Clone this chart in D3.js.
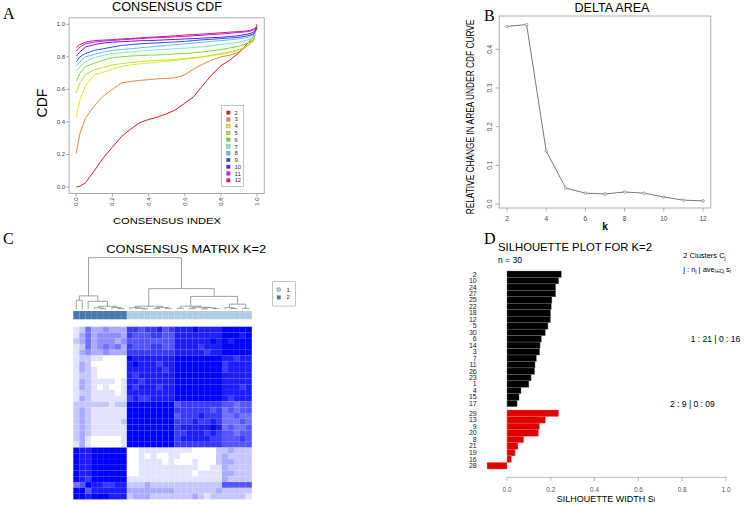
<!DOCTYPE html>
<html><head><meta charset="utf-8">
<script src="https://cdn.jsdelivr.net/npm/d3@7"></script>
<style>body{margin:0;background:#fff}svg{display:block}</style>
</head><body>
<svg id="c" width="745" height="505"></svg>
<script>
// ---------------- DATA ----------------
const cdfK = [2,3,4,5,6,7,8,9,10,11,12];
const cdfColors = ["#d42020","#e8883a","#e6e62e","#b6e62e","#7fd63c","#7fe6bf","#6cb6f0","#2f4ff0","#5a1fe6","#c21fe6","#d2177f"];
const cdfX = [0,0.02,0.05,0.1,0.15,0.2,0.25,0.3,0.35,0.4,0.45,0.5,0.55,0.6,0.65,0.7,0.75,0.8,0.85,0.9,0.95,0.98,1];
const cdfK2  = [0,0.005,0.025,0.10,0.18,0.245,0.31,0.355,0.395,0.415,0.43,0.45,0.475,0.515,0.555,0.625,0.69,0.745,0.78,0.825,0.885,0.925,1.0];
const cdfK3  = [0.207,0.33,0.42,0.50,0.56,0.60,0.64,0.648,0.655,0.66,0.665,0.668,0.672,0.69,0.725,0.755,0.78,0.80,0.81,0.83,0.87,0.905,0.99];
const cdfK4  = [0.43,0.535,0.62,0.69,0.705,0.725,0.74,0.75,0.757,0.762,0.767,0.772,0.778,0.785,0.79,0.80,0.808,0.815,0.825,0.84,0.87,0.90,0.99];
const cdfK5  = [0.576,0.64,0.69,0.72,0.735,0.75,0.758,0.765,0.77,0.775,0.778,0.78,0.785,0.79,0.795,0.80,0.81,0.82,0.83,0.845,0.87,0.895,0.99];
const cdfK6  = [0.65,0.70,0.74,0.76,0.78,0.795,0.80,0.805,0.808,0.81,0.812,0.815,0.818,0.82,0.825,0.83,0.838,0.845,0.855,0.865,0.885,0.905,0.99];
const cdfK7  = [0.71,0.74,0.77,0.795,0.81,0.82,0.825,0.83,0.835,0.84,0.843,0.846,0.85,0.853,0.857,0.862,0.868,0.875,0.882,0.89,0.905,0.92,0.985];
const cdfK8  = [0.745,0.77,0.80,0.815,0.83,0.84,0.845,0.85,0.855,0.86,0.865,0.87,0.875,0.88,0.885,0.89,0.895,0.90,0.905,0.91,0.92,0.935,0.98];
const cdfK9  = [0.77,0.80,0.82,0.84,0.85,0.86,0.87,0.875,0.88,0.883,0.886,0.889,0.892,0.895,0.90,0.905,0.908,0.912,0.916,0.92,0.93,0.94,0.975];
const cdfK10 = [0.805,0.83,0.86,0.875,0.885,0.89,0.893,0.896,0.899,0.90,0.902,0.905,0.907,0.91,0.912,0.915,0.918,0.92,0.925,0.93,0.94,0.95,0.975];
const cdfK11 = [0.835,0.86,0.88,0.89,0.897,0.90,0.905,0.908,0.912,0.915,0.918,0.92,0.923,0.926,0.93,0.933,0.937,0.94,0.945,0.95,0.955,0.965,0.98];
const cdfK12 = [0.855,0.875,0.89,0.90,0.903,0.906,0.91,0.913,0.917,0.92,0.923,0.926,0.93,0.934,0.937,0.94,0.944,0.948,0.952,0.955,0.96,0.97,0.985];
const cdfSeries = [cdfK2,cdfK3,cdfK4,cdfK5,cdfK6,cdfK7,cdfK8,cdfK9,cdfK10,cdfK11,cdfK12];
const cdfTicks = [0,0.2,0.4,0.6,0.8,1.0];

const deltaK = [2,3,4,5,6,7,8,9,10,11,12];
const deltaVal = [0.459,0.464,0.137,0.041,0.028,0.026,0.031,0.028,0.018,0.010,0.008];
const deltaXTicks = [2,4,6,8,10,12];
const deltaYTicks = [0,0.1,0.2,0.3,0.4];

// consensus matrix, displayed rows top->bottom, digit = level 0..9
const heatMatrix = [
"125334333776778678889888899999",
"135344443766677668888888899989",
"235344434666666668888889898999",
"125345453766677668888788899999",
"134334333777777778888878899999",
"122110000988888889999999988788",
"132000000898887889999999978888",
"132100000888888789999999978888",
"122100000878888889999999988888",
"132111101887888889999999988888",
"132101001878887889999999988878",
"122111101888888889999999988888",
"132111111787788889999999987888",
"222222122999999996777777766566",
"232111111999999997777776756566",
"232111111999999996777877755655",
"232111112999999997778778755565",
"232111111999999997888889856556",
"232111111999999997788878766566",
"231000001999999997888887766676",
"131000001999999997777777766666",
"988999999001111111110000223222",
"988999999001010011000000232222",
"988999999001111010001000233222",
"988999999001111111111001132222",
"988999999001111111110111133222",
"987999999111111111111111132222",
"569887788222322222222222266666",
"996888888333333332222222322222",
"998999888233322222223212222221"
];
const clusterOfCol = [2,2,2,2,2,2,2,2,2,1,1,1,1,1,1,1,1,1,1,1,1,1,1,1,1,1,1,1,1,1];
const clusterColors = {1:"#b0cde4", 2:"#4a79b2"};
// dendrogram: [height, left, right]; leaves = column index
const dendro = [1.0,
  [0.26, [0.175,0,1], [0.155, 2, [0.06, [0.03,3,[0.01,4,5]], [0.035,6,[0.015,7,8]]]]],
  [0.40,
    [0.06, [0.03,9,[0.02,10,[0.01,11,12]]], [0.035,[0.015,13,14],[0.02,15,16]]],
    [0.25,
      [0.06, [0.02,17,18], [0.04,[0.02,19,20],[0.03,[0.01,21,22],[0.015,23,24]]]],
      [0.10, [0.03,25,[0.015,26,27]], [0.02,28,29]]]]];

const silLabels1 = ["2","10","24","27","25","22","18","12","5","30","6","14","3","7","11","26","23","1","4","15","17"];
const silVals1 = [0.248,0.236,0.222,0.222,0.205,0.202,0.199,0.198,0.187,0.175,0.157,0.151,0.149,0.134,0.128,0.126,0.110,0.100,0.064,0.055,0.046];
const silLabels2 = ["29","13","9","20","8","21","19","16","28"];
const silVals2 = [0.236,0.175,0.148,0.143,0.076,0.050,0.037,0.020,-0.091];
const silTicks = [0,0.2,0.4,0.6,0.8,1.0];

// ---------------- DRAW ----------------
const SANS = "'Liberation Sans', Arial, sans-serif";
const SERIF = "'Liberation Serif', 'DejaVu Serif', serif";
const svg = d3.select("#c");
function T(x,y,s,o={}){
  const t = svg.append("text").attr("x",x).attr("y",y).text(s)
    .attr("font-family",o.ff||SANS).attr("font-size",o.fs||8).attr("fill",o.fill||"#000");
  if(o.anchor) t.attr("text-anchor",o.anchor);
  if(o.tl){ t.attr("textLength",o.tl).attr("lengthAdjust","spacingAndGlyphs"); }
  if(o.rot!==undefined) t.attr("transform",`rotate(${o.rot},${x},${y})`);
  if(o.fw) t.attr("font-weight",o.fw);
  return t;
}
// text condensed to a given width via a scale transform (rot in degrees)
function TS(x,y,s,width,o={}){
  const t = svg.append("text").attr("x",0).attr("y",0).text(s)
    .attr("font-family",o.ff||SANS).attr("font-size",o.fs||8).attr("fill",o.fill||"#000")
    .attr("text-anchor",o.anchor||"start");
  const len = t.node().getComputedTextLength();
  const sx = width/len;
  t.attr("transform",`translate(${x},${y}) rotate(${o.rot||0}) scale(${sx},1)`);
  return t;
}
// panel letters
T(3,19,"A",{ff:SERIF,fs:16});
T(484,21,"B",{ff:SERIF,fs:16});
T(3,244,"C",{ff:SERIF,fs:16});
T(484,244,"D",{ff:SERIF,fs:16});

// ===== Panel A =====
{
  const x = d3.scaleLinear().domain([0,1]).range([76.3,257]);
  const y = d3.scaleLinear().domain([0,1]).range([187,24.3]);
  const g = svg.append("g");
  g.append("rect").attr("x",x(-0.04)).attr("y",y(1.04)).attr("width",x(1.04)-x(-0.04)).attr("height",y(-0.04)-y(1.04))
    .attr("fill","none").attr("stroke","#999").attr("stroke-width",0.8);
  const line = d3.line().x((d,i)=>x(cdfX[i])).y(d=>y(d));
  cdfSeries.forEach((s,i)=>{
    g.append("path").attr("d",line(s)).attr("fill","none").attr("stroke",cdfColors[i]).attr("stroke-width",1);
  });
  const bx0 = x(-0.04), by0 = y(-0.04);
  cdfTicks.forEach(t=>{
    g.append("line").attr("x1",bx0-3).attr("x2",bx0).attr("y1",y(t)).attr("y2",y(t)).attr("stroke","#777").attr("stroke-width",0.6);
    T(bx0-4,y(t)+2,d3.format(".1f")(t),{fs:6,anchor:"end",fill:"#444"});
    g.append("line").attr("x1",x(t)).attr("x2",x(t)).attr("y1",by0).attr("y2",by0+3).attr("stroke","#777").attr("stroke-width",0.6);
    T(x(t)+2,by0+4,d3.format(".1f")(t),{fs:6,anchor:"end",fill:"#444",rot:-90});
  });
  T(167,11,"CONSENSUS CDF",{fs:12,anchor:"middle",tl:110});
  T(46.5,103,"CDF",{fs:14,anchor:"middle",rot:-90});
  T(167,224,"CONSENSUS INDEX",{fs:9,anchor:"middle",tl:108});
  const lx=221.5, ly=105.5;
  g.append("rect").attr("x",lx).attr("y",ly).attr("width",22).attr("height",81).attr("fill","#fff").attr("stroke","#999").attr("stroke-width",0.6);
  cdfK.forEach((k,i)=>{
    const cy = 112.7+6.76*i;
    g.append("rect").attr("x",226.5).attr("y",cy-1.8).attr("width",3.6).attr("height",3.6).attr("fill",cdfColors[i]).attr("stroke","#666").attr("stroke-width",0.3);
    T(234.5,cy+2,String(k),{fs:6,fill:"#333"});
  });
}

// ===== Panel B =====
{
  const x = d3.scaleLinear().domain([2,12]).range([507,703]);
  const y = d3.scaleLinear().domain([0,0.4]).range([204,49.3]);
  const g = svg.append("g");
  g.append("rect").attr("x",499.2).attr("y",16).attr("width",211.6).attr("height",192).attr("fill","none").attr("stroke","#999").attr("stroke-width",0.8);
  const line = d3.line().x((d,i)=>x(deltaK[i])).y(d=>y(d));
  g.append("path").attr("d",line(deltaVal)).attr("fill","none").attr("stroke","#555").attr("stroke-width",0.8);
  deltaVal.forEach((v,i)=>{
    g.append("circle").attr("cx",x(deltaK[i])).attr("cy",y(v)).attr("r",1.3).attr("fill","#fff").attr("stroke","#666").attr("stroke-width",0.6);
  });
  deltaYTicks.forEach(t=>{
    g.append("line").attr("x1",495.5).attr("x2",499.2).attr("y1",y(t)).attr("y2",y(t)).attr("stroke","#777").attr("stroke-width",0.6);
    T(492,y(t),d3.format(".1f")(t),{fs:6.5,anchor:"middle",fill:"#444",rot:-90});
  });
  deltaXTicks.forEach(t=>{
    g.append("line").attr("x1",x(t)).attr("x2",x(t)).attr("y1",208).attr("y2",211.5).attr("stroke","#777").attr("stroke-width",0.6);
    T(x(t),221,String(t),{fs:6.5,anchor:"middle",fill:"#444"});
  });
  T(612,12,"DELTA AREA",{fs:12.5,anchor:"middle",tl:75});
  TS(474,117,"RELATIVE CHANGE IN AREA UNDER CDF CURVE",195,{fs:10,anchor:"middle",rot:-90});
  T(605,230,"k",{fs:10,anchor:"middle",fw:"bold"});
}

// ===== Panel C =====
{
  const n = 30;
  const cx = d3.scaleBand().domain(d3.range(n)).range([73.3,251.7]);
  const ry = d3.scaleBand().domain(d3.range(n)).range([326.7,499.3]);
  const col = d3.scaleLinear().domain([0,9]).range(["#ffffff","#0000ff"]);
  const g = svg.append("g");
  heatMatrix.forEach((row,r)=>{
    row.split("").forEach((ch,c)=>{
      g.append("rect").attr("x",cx(c)).attr("y",ry(r)).attr("width",cx.bandwidth()+0.1).attr("height",ry.bandwidth()+0.1)
        .attr("fill",col(+ch));
    });
  });
  d3.range(1,n).forEach(i=>{
    g.append("line").attr("x1",cx(i)).attr("x2",cx(i)).attr("y1",326.7).attr("y2",499.3).attr("stroke","#fff").attr("stroke-opacity",0.12).attr("stroke-width",0.5);
    g.append("line").attr("y1",ry(i)).attr("y2",ry(i)).attr("x1",73.3).attr("x2",251.7).attr("stroke","#fff").attr("stroke-opacity",0.12).attr("stroke-width",0.5);
  });
  clusterOfCol.forEach((k,c)=>{
    g.append("rect").attr("x",cx(c)).attr("y",311).attr("width",cx.bandwidth()+0.1).attr("height",8.3).attr("fill",clusterColors[k]);
  });
  d3.range(1,n).forEach(i=>{
    g.append("line").attr("x1",cx(i)).attr("x2",cx(i)).attr("y1",311).attr("y2",319.3).attr("stroke","#fff").attr("stroke-opacity",0.15).attr("stroke-width",0.5);
  });
  const dy = d3.scaleLinear().domain([0,1]).range([309.3,257.7]);
  const segs = [];
  function lay(node){
    if(typeof node === "number") return {x: cx(node)+cx.bandwidth()/2, h:0};
    const [h,a,b] = node;
    const A = lay(a), B = lay(b);
    segs.push([A.x,dy(h),B.x,dy(h)]);
    segs.push([A.x,dy(h),A.x,dy(A.h)]);
    segs.push([B.x,dy(h),B.x,dy(B.h)]);
    return {x:(A.x+B.x)/2, h};
  }
  lay(dendro);
  segs.forEach(s=>{
    g.append("line").attr("x1",s[0]).attr("y1",s[1]).attr("x2",s[2]).attr("y2",s[3]).attr("stroke","#888").attr("stroke-width",0.8);
  });
  T(186.3,253.3,"CONSENSUS MATRIX K=2",{fs:11.6,anchor:"middle",tl:160});
  g.append("rect").attr("x",272.7).attr("y",281.7).attr("width",22.6).attr("height",24.3).attr("fill","#fff").attr("stroke","#999").attr("stroke-width",0.6);
  [1,2].forEach((k,i)=>{
    const yy = 289.7+7.7*i;
    g.append("rect").attr("x",277).attr("y",yy-1.8).attr("width",3.6).attr("height",3.6).attr("fill",clusterColors[k]).attr("stroke","#666").attr("stroke-width",0.3);
    T(286.5,yy+2,String(k),{fs:6,fill:"#333"});
  });
}

// ===== Panel D =====
{
  const x = d3.scaleLinear().domain([0,1]).range([507,726]);
  const b1 = d3.scaleBand().domain(d3.range(silVals1.length)).range([271,406.7]);
  const b2 = d3.scaleBand().domain(d3.range(silVals2.length)).range([410,469]);
  const g = svg.append("g");
  silVals1.forEach((v,i)=>{
    g.append("rect").attr("x",Math.min(x(0),x(v))).attr("y",b1(i)).attr("width",Math.abs(x(v)-x(0))).attr("height",b1.bandwidth())
      .attr("fill","#000").attr("stroke","#777").attr("stroke-width",0.4);
    T(476.7,b1(i)+b1.bandwidth()/2+2.4,silLabels1[i],{fs:7,anchor:"end",fill:"#222"});
  });
  silVals2.forEach((v,i)=>{
    g.append("rect").attr("x",Math.min(x(0),x(v))).attr("y",b2(i)).attr("width",Math.abs(x(v)-x(0))).attr("height",b2.bandwidth())
      .attr("fill","#e00000").attr("stroke","#f07070").attr("stroke-width",0.4);
    T(476.7,b2(i)+b2.bandwidth()/2+2.4,silLabels2[i],{fs:7,anchor:"end",fill:"#222"});
  });
  g.append("line").attr("x1",x(0)).attr("x2",x(1)).attr("y1",477.3).attr("y2",477.3).attr("stroke","#888").attr("stroke-width",0.6);
  silTicks.forEach(t=>{
    g.append("line").attr("x1",x(t)).attr("x2",x(t)).attr("y1",477.3).attr("y2",481).attr("stroke","#888").attr("stroke-width",0.6);
    T(x(t),491.5,d3.format(".1f")(t),{fs:6.5,anchor:"middle",fill:"#555"});
  });
  T(498,250.7,"SILHOUETTE PLOT FOR K=2",{fs:11.2,tl:154});
  T(498,262.7,"n = 30",{fs:8.5});
  const s1 = T(606,501.5,"SILHOUETTE WIDTH S",{fs:9,anchor:"middle"});
  s1.append("tspan").attr("font-size",6.5).text("i");
  const h1 = T(683.3,258.3,"2 Clusters C",{fs:7.5});
  h1.append("tspan").attr("font-size",5).attr("dy",1.5).text("j");
  const h2 = T(683.3,271.7,"j : n",{fs:7.5});
  h2.append("tspan").attr("font-size",5).attr("dy",1.5).text("j");
  h2.append("tspan").attr("dy",-1.5).text(" | ave");
  h2.append("tspan").attr("font-size",4.5).attr("dy",1.5).text("i∈Cj");
  h2.append("tspan").attr("dy",-1.5).text(" s");
  h2.append("tspan").attr("font-size",5).attr("dy",1.5).text("i");
  T(690.7,342,"1 : 21 | 0 : 16",{fs:8.5});
  T(670,406.7,"2 : 9 | 0 : 09",{fs:8.5});
}
</script>
</body></html>
